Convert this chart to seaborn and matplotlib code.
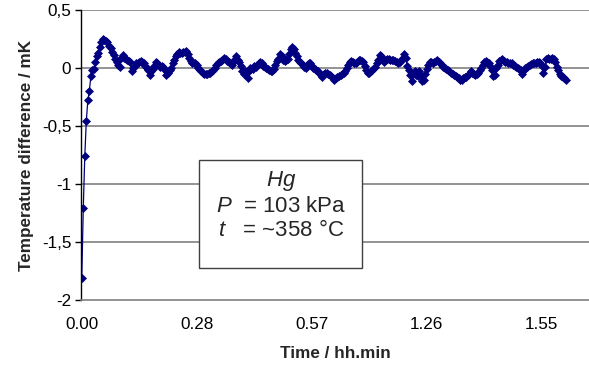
import numpy as np
import pandas as pd
import matplotlib
matplotlib.use("Agg")
import matplotlib.pyplot as plt
import matplotlib.ticker as mtick
from matplotlib.patches import Rectangle
import seaborn as sns

# =========================================================
# Data: temperature difference (mK), one sample per reading
# =========================================================
temp_diff = [
    -1.81, -1.21, -0.76, -0.46, -0.28, -0.20, -0.07, -0.02, -0.01, 0.05,
    0.10, 0.13, 0.18, 0.22, 0.25, 0.245, 0.235, 0.22, 0.19, 0.17,
    0.14, 0.11, 0.08, 0.05, 0.03, 0.01, 0.09, 0.11, 0.09, 0.08,
    0.07, 0.06, 0.05, -0.03, 0.00, 0.02, 0.04, 0.04, 0.05, 0.06,
    0.05, 0.04, 0.02, 0.00, -0.02, -0.06, -0.03, -0.01, 0.02, 0.05,
    0.04, 0.03, 0.01, 0.02, 0.01, -0.02, -0.06, -0.04, -0.02, 0.00,
    0.04, 0.07, 0.10, 0.12, 0.14, 0.13, 0.13, 0.14, 0.14, 0.15,
    0.12, 0.09, 0.06, 0.04, 0.04, 0.04, 0.03, 0.00, -0.02, -0.03,
    -0.04, -0.05, -0.05, -0.05, -0.045, -0.04, -0.03, -0.02, 0.00, 0.03,
    0.04, 0.05, 0.06, 0.07, 0.09, 0.08, 0.06, 0.05, 0.04, 0.03,
    0.05, 0.08, 0.10, 0.07, 0.05, 0.02, -0.03, -0.05, -0.03, -0.04,
    -0.09, 0.00, -0.01, -0.01, 0.02, 0.01, 0.03, 0.04, 0.05, 0.04,
    0.02, 0.01, 0.00, -0.01, -0.02, -0.03, -0.03, -0.01, 0.03, 0.06,
    0.08, 0.12, 0.10, 0.07, 0.06, 0.07, 0.08, 0.12, 0.16, 0.18,
    0.16, 0.13, 0.10, 0.07, 0.05, 0.04, 0.03, 0.01, 0.00, 0.03,
    0.04, 0.04, 0.02, 0.00, -0.01, -0.02, -0.03, -0.04, -0.06, -0.08,
    -0.05, -0.04, -0.04, -0.05, -0.06, -0.07, -0.09, -0.10, -0.09, -0.08,
    -0.07, -0.06, -0.05, -0.04, -0.03, 0.00, 0.03, 0.05, 0.06, 0.05,
    0.04, 0.04, 0.05, 0.07, 0.07, 0.06, 0.05, 0.02, -0.02, -0.04,
    -0.04, -0.03, -0.02, 0.00, 0.01, 0.04, 0.07, 0.11, 0.10, 0.07,
    0.05, 0.07, 0.08, 0.08, 0.07, 0.07, 0.065, 0.06, 0.05, 0.04,
    0.05, 0.07, 0.09, 0.12, 0.09, 0.02, -0.02, -0.06, -0.11, -0.05,
    -0.03, -0.06, -0.07, -0.03, -0.07, -0.11, -0.10, -0.05, -0.01, 0.03,
    0.05, 0.05, 0.04, 0.05, 0.06, 0.07, 0.05, 0.04, 0.03, 0.01,
    0.00, -0.01, -0.02, -0.03, -0.04, -0.05, -0.06, -0.07, -0.08, -0.09,
    -0.10, -0.10, -0.09, -0.08, -0.075, -0.06, -0.05, -0.03, -0.04, -0.05,
    -0.06, -0.05, -0.04, -0.02, 0.00, 0.03, 0.05, 0.06, 0.05, 0.04,
    0.02, -0.02, -0.07, -0.06, 0.00, 0.03, 0.06, 0.07, 0.08, 0.06,
    0.05, 0.05, 0.04, 0.04, 0.04, 0.03, 0.02, 0.01, 0.00, -0.01,
    -0.02, -0.05, -0.02, 0.00, 0.01, 0.02, 0.03, 0.035, 0.04, 0.04,
    0.04, 0.05, 0.05, 0.04, 0.02, -0.04, 0.01, 0.08, 0.09, 0.08,
    0.08, 0.09, 0.08, 0.05, 0.01, -0.02, -0.05, -0.07, -0.08, -0.09,
    -0.10,
]

# category axis: a label every 76 samples
tick_index = [0, 76, 152, 228, 304]
tick_labels = ["0.00", "0.28", "0.57", "1.26", "1.55"]
y_ticks = [0.5, 0.0, -0.5, -1.0, -1.5, -2.0]

df = pd.DataFrame({"sample": np.arange(len(temp_diff)), "dT": temp_diff})

# =========================================================
# Plot
# =========================================================
sns.set_theme(style="white")
plt.rcParams["font.family"] = ["Liberation Sans", "DejaVu Sans"]
plt.rcParams["mathtext.fontset"] = "custom"
plt.rcParams["mathtext.rm"] = "Liberation Sans"
plt.rcParams["mathtext.it"] = "Liberation Sans:italic"

fig = plt.figure(figsize=(5.89, 3.69), dpi=100)
ax = fig.add_axes([81 / 589, 1 - 300 / 369, 1 - 81 / 589, 290 / 369])

for yv in y_ticks[:-1]:
    ax.axhline(yv, color="#808080", lw=1.2, zorder=0)

sns.lineplot(
    data=df, x="sample", y="dT", ax=ax,
    color="#000080", lw=0.9, marker="D", markersize=4.0,
    markeredgecolor="#000080", markeredgewidth=0.5,
)

ax.set_xlim(-0.5, 335.2)
ax.set_ylim(-2, 0.5)
ax.set_xticks(tick_index)
ax.set_xticklabels(tick_labels)
ax.set_yticks(y_ticks)
ax.yaxis.set_major_formatter(
    mtick.FuncFormatter(lambda v, p: f"{v:g}".replace(".", ","))
)
ax.tick_params(axis="x", length=0, labelsize=12.3, pad=12, colors="black")
ax.tick_params(axis="y", length=4, width=1, direction="out", left=True,
               labelsize=12.3, pad=3, colors="black")

for s in ["top", "right"]:
    ax.spines[s].set_visible(False)
ax.spines["left"].set_color("black")
ax.spines["left"].set_linewidth(1.0)
ax.spines["bottom"].set_color("#808080")
ax.spines["bottom"].set_linewidth(1.2)

ax.set_xlabel("Time / hh.min", fontsize=12.3, fontweight="bold", labelpad=10)
ax.set_ylabel("Temperature difference / mK", fontsize=12.3,
              fontweight="bold", labelpad=6)

# annotation box
box = Rectangle((199 / 589, 1 - 268 / 369), 163 / 589, 108 / 369,
                transform=fig.transFigure, facecolor="white",
                edgecolor="#404040", lw=1.0, zorder=5)
fig.patches.append(box)
cx = 281 / 589
fig.text(cx, 1 - 181 / 369, "$Hg$", ha="center", va="center", fontsize=16, zorder=6)
fig.text(cx, 1 - 206 / 369, "$P$  = 103 kPa", ha="center", va="center",
         fontsize=16, zorder=6)
fig.text(cx, 1 - 231 / 369, "$t$   = ~358 °C", ha="center", va="center",
         fontsize=16, zorder=6)

fig.savefig("out.png", dpi=100)
